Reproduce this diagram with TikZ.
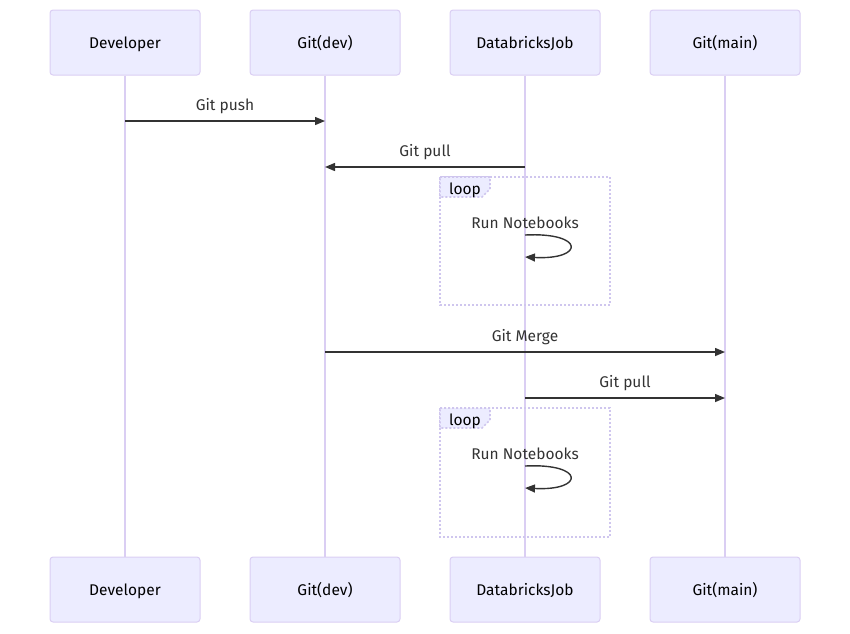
\documentclass[tikz,border=0pt]{standalone}
\usepackage{fontspec}
\setmainfont{Fira Sans}
\usetikzlibrary{arrows.meta}
\definecolor{actfill}{HTML}{ECECFF}
\definecolor{actborder}{HTML}{DACEF3}
\definecolor{msg}{HTML}{333333}
\definecolor{loopborder}{HTML}{CFC6EE}
\tikzset{
  actor/.style={draw=actborder, fill=actfill, line width=1pt, rounded corners=3pt, minimum width=150pt, minimum height=65pt, inner sep=0pt, font=\fontsize{15.5}{18}\selectfont, text=black, text height=15pt, text depth=4pt},
  lifeline/.style={draw=actborder, line width=1.6pt},
  msgline/.style={draw=msg, line width=1.4pt, -{Triangle[length=10pt,width=8pt]}},
  msglabel/.style={font=\fontsize{15.5}{18}\selectfont, text=msg, inner sep=0pt},
  loopbox/.style={draw=loopborder, line width=1.6pt, dash pattern=on 2pt off 2pt},
}
\begin{document}
\begin{tikzpicture}[x=1pt,y=-1pt]
\useasboundingbox (0,0) rectangle (850,633);
% actors top
\node[actor] (d1) at (125,42.5) {Developer};
\node[actor] (g1) at (325,42.5) {Git(dev)};
\node[actor] (j1) at (525,42.5) {DatabricksJob};
\node[actor] (m1) at (725,42.5) {Git(main)};
% actors bottom
\node[actor] (d2) at (125,589.5) {Developer};
\node[actor] (g2) at (325,589.5) {Git(dev)};
\node[actor] (j2) at (525,589.5) {DatabricksJob};
\node[actor] (m2) at (725,589.5) {Git(main)};
% lifelines
\draw[lifeline] (d1.south) -- (d2.north);
\draw[lifeline] (g1.south) -- (g2.north);
\draw[lifeline] (j1.south) -- (j2.north);
\draw[lifeline] (m1.south) -- (m2.north);
% loop boxes
\draw[loopbox] (440,177) rectangle (610,305);
\draw[loopbox, fill=actfill] (440,177) -- (490,177) -- (490,189) -- (482,197) -- (440,197) -- cycle;
\node[msglabel, text=black] (l1) at (465,190) {loop};
\draw[loopbox] (440,408) rectangle (610,537);
\draw[loopbox, fill=actfill] (440,408) -- (490,408) -- (490,420) -- (482,428) -- (440,428) -- cycle;
\node[msglabel, text=black] (l2) at (465,421) {loop};
% message coordinates
\coordinate (p1a) at (125,121); \coordinate (p1b) at (325,121);
\coordinate (p2a) at (525,167); \coordinate (p2b) at (325,167);
\coordinate (s1a) at (525,235); \coordinate (s1b) at (525,257);
\coordinate (p3a) at (325,352); \coordinate (p3b) at (725,352);
\coordinate (p4a) at (525,398); \coordinate (p4b) at (725,398);
\coordinate (s2a) at (525,466); \coordinate (s2b) at (525,488);
% messages
\draw[msgline] (p1a) -- (p1b);
\node[msglabel] (t1) at (225,106) {Git push};
\draw[msgline] (p2a) -- (p2b);
\node[msglabel] (t2) at (425,152) {Git pull};
\node[msglabel] (t3) at (525,223) {Run Notebooks};
\draw[msgline] (s1a) .. controls (585,232) and (585,260) .. (s1b);
\draw[msgline] (p3a) -- (p3b);
\node[msglabel] (t4) at (525,337) {Git Merge};
\draw[msgline] (p4a) -- (p4b);
\node[msglabel] (t5) at (625,383) {Git pull};
\node[msglabel] (t6) at (525,454) {Run Notebooks};
\draw[msgline] (s2a) .. controls (585,463) and (585,491) .. (s2b);
\end{tikzpicture}
\end{document}
